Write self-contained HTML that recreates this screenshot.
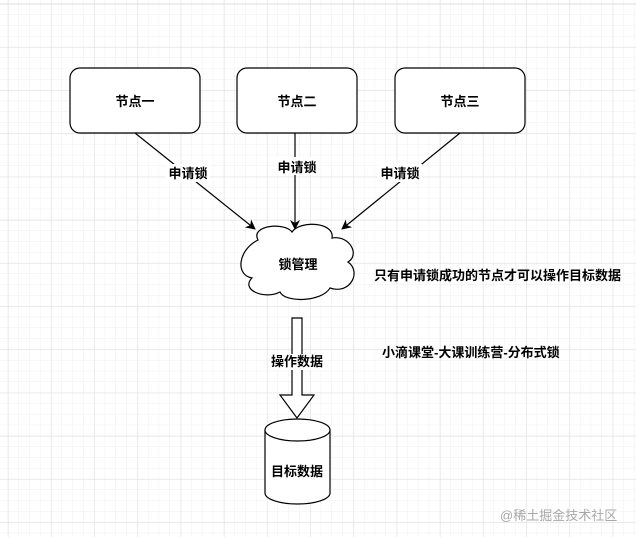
<!DOCTYPE html>
<html><head><meta charset="utf-8"><style>
html,body{margin:0;padding:0;width:636px;height:537px;overflow:hidden;background:#fff}
</style></head><body>
<svg width="636" height="537" xmlns="http://www.w3.org/2000/svg" font-family="Liberation Sans, Noto Sans CJK SC, sans-serif">
<defs>
<pattern id="mi" x="8" y="4" width="10.8" height="10.8" patternUnits="userSpaceOnUse"><path d="M10.8 0V10.8H0" fill="none" stroke="#efefef" stroke-width="1"/></pattern>
<pattern id="ma" x="8" y="4" width="43.2" height="43.2" patternUnits="userSpaceOnUse"><path d="M0 0V43.2M0 0H43.2" fill="none" stroke="#e0e0e0" stroke-width="1"/></pattern>
<marker id="ar" markerWidth="10" markerHeight="10" refX="9" refY="5" orient="auto" markerUnits="userSpaceOnUse"><path d="M0 0L10 5L0 10L3 5Z" fill="#000"/></marker>
</defs>
<rect width="636" height="537" fill="url(#mi)"/>
<rect width="636" height="537" fill="url(#ma)"/>
<line x1="0" y1="4" x2="636" y2="4" stroke="#ddd"/>
<g fill="#fff" stroke="#000" stroke-width="1.2">
<rect x="70" y="68" width="130" height="65" rx="10"/>
<rect x="237" y="68" width="120" height="65" rx="10"/>
<rect x="395" y="68" width="130" height="65" rx="10"/>
</g>
<g font-size="13" font-weight="bold" text-anchor="middle" fill="#000">
<text x="135" y="106">节点一</text>
<text x="297" y="106">节点二</text>
<text x="460" y="106">节点三</text>
</g>
<g stroke="#000" stroke-width="1.2" fill="none">
<line x1="135" y1="133" x2="255" y2="229" marker-end="url(#ar)"/>
<line x1="295" y1="133" x2="295" y2="229" marker-end="url(#ar)"/>
<line x1="460" y1="133" x2="342" y2="229" marker-end="url(#ar)"/>
</g>
<g font-size="13" font-weight="bold" text-anchor="middle">
<rect x="166" y="164" width="44" height="18" fill="#fff"/>
<text x="188" y="178">申请锁</text>
<rect x="275" y="157" width="44" height="18" fill="#fff"/>
<text x="297" y="172">申请锁</text>
<rect x="378" y="164" width="44" height="18" fill="#fff"/>
<text x="400" y="178">申请锁</text>
</g>
<path d="M258 240 C 250 225, 285 222, 292 232 C 300 220, 335 222, 332 238 C 350 235, 360 255, 348 262 C 362 272, 350 295, 330 288 C 322 302, 285 303, 280 292 C 265 300, 240 290, 252 278 C 235 275, 238 250, 258 240 Z" fill="#fff" stroke="#000" stroke-width="1.2"/>
<text x="298" y="269" font-size="13" font-weight="bold" text-anchor="middle">锁管理</text>
<path d="M292 318H302V395H314L297 418L280 395H292Z" fill="#fff" stroke="#000" stroke-width="1.2"/>
<rect x="270" y="354" width="54" height="16" fill="#fff"/>
<text x="297" y="366" font-size="13" font-weight="bold" text-anchor="middle">操作数据</text>
<path d="M265 430V493A32.5 11 0 0 0 330 493V430" fill="#fff" stroke="#000" stroke-width="1.2"/>
<ellipse cx="297.5" cy="430" rx="32.5" ry="11" fill="#fff" stroke="#000" stroke-width="1.2"/>
<text x="297" y="476" font-size="13" font-weight="bold" text-anchor="middle">目标数据</text>
<text x="374" y="280" font-size="13" font-weight="bold">只有申请锁成功的节点才可以操作目标数据</text>
<text x="382" y="357" font-size="13" font-weight="bold">小滴课堂-大课训练营-分布式锁</text>
<text x="500" y="520" font-size="13" fill="#a8a8a8">@稀土掘金技术社区</text>
</svg>
</body></html>
